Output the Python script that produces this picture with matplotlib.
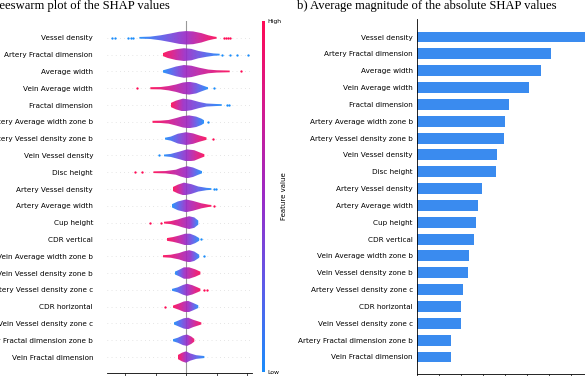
import numpy as np
import matplotlib
matplotlib.use('Agg')
import matplotlib.pyplot as plt
from matplotlib.colors import LinearSegmentedColormap
from matplotlib.patches import Polygon
from matplotlib.cm import ScalarMappable

features = [
    "Vessel density", "Artery Fractal dimension", "Average width", "Vein Average width",
    "Fractal dimension", "Artery Average width zone b", "Artery Vessel density zone b",
    "Vein Vessel density", "Disc height", "Artery Vessel density", "Artery Average width",
    "Cup height", "CDR vertical", "Vein Average width zone b", "Vein Vessel density zone b",
    "Artery Vessel density zone c", "CDR horizontal", "Vein Vessel density zone c",
    "Artery Fractal dimension zone b", "Vein Fractal dimension",
]

# mean |SHAP| (panel b)
mean_abs_shap = [0.160, 0.1215, 0.113, 0.102, 0.084, 0.080, 0.0795, 0.073, 0.072, 0.0595,
                 0.0555, 0.054, 0.052, 0.047, 0.046, 0.042, 0.040, 0.0397, 0.031, 0.031]

# beeswarm outline per feature (SHAP value positions and half thickness of the swarm)
swarm_x = [
    [-1.53, -1.17, -0.83, -0.5, -0.23, 0, 0.23, 0.5, 0.73, 0.9, 1.0],
    [-0.77, -0.6, -0.33, -0.07, 0.17, 0.4, 0.67, 0.9, 1.1],
    [-0.77, -0.57, -0.33, -0.07, 0.17, 0.43, 0.73, 1.0, 1.43],
    [-1.17, -0.83, -0.57, -0.33, -0.1, 0.1, 0.33, 0.5, 0.67, 0.73],
    [-0.5, -0.33, -0.1, 0.17, 0.43, 0.67, 1.0, 1.17],
    [-1.1, -0.83, -0.57, -0.33, -0.1, 0.1, 0.33, 0.5, 0.6],
    [-0.7, -0.5, -0.27, 0, 0.23, 0.43, 0.67],
    [-0.73, -0.5, -0.23, 0.03, 0.27, 0.43, 0.6],
    [-1.07, -0.67, -0.33, -0.17, 0.03, 0.23, 0.4, 0.53],
    [-0.43, -0.27, -0.07, 0.17, 0.4, 0.67, 0.83],
    [-0.47, -0.27, 0, 0.23, 0.5, 0.73, 0.83],
    [-0.73, -0.5, -0.27, -0.1, 0.1, 0.27, 0.4],
    [-0.63, -0.43, -0.23, -0.03, 0.13, 0.3, 0.43],
    [-0.77, -0.5, -0.23, -0.07, 0.1, 0.27, 0.43],
    [-0.37, -0.23, -0.07, 0.1, 0.3, 0.47],
    [-0.47, -0.27, -0.1, 0.03, 0.2, 0.37, 0.47],
    [-0.43, -0.23, -0.07, 0.07, 0.23, 0.4],
    [-0.4, -0.23, -0.07, 0.07, 0.23, 0.4, 0.5],
    [-0.43, -0.27, -0.1, 0.03, 0.17, 0.27],
    [-0.27, -0.13, 0, 0.13, 0.33, 0.6],
]
swarm_hw = [
    [0.05, 0.07, 0.15, 0.26, 0.36, 0.40, 0.38, 0.28, 0.15, 0.08, 0.05],
    [0.08, 0.2, 0.32, 0.38, 0.34, 0.22, 0.13, 0.07, 0.05],
    [0.06, 0.16, 0.29, 0.38, 0.34, 0.22, 0.11, 0.07, 0.05],
    [0.06, 0.07, 0.13, 0.22, 0.34, 0.38, 0.31, 0.19, 0.08, 0.05],
    [0.12, 0.26, 0.38, 0.31, 0.18, 0.09, 0.06, 0.05],
    [0.06, 0.07, 0.11, 0.22, 0.34, 0.38, 0.31, 0.19, 0.08],
    [0.05, 0.12, 0.29, 0.38, 0.31, 0.19, 0.07],
    [0.05, 0.09, 0.22, 0.36, 0.31, 0.19, 0.07],
    [0.05, 0.07, 0.15, 0.26, 0.36, 0.28, 0.15, 0.06],
    [0.12, 0.26, 0.38, 0.29, 0.15, 0.07, 0.05],
    [0.09, 0.26, 0.38, 0.29, 0.15, 0.07, 0.05],
    [0.05, 0.09, 0.19, 0.29, 0.38, 0.31, 0.12],
    [0.08, 0.14, 0.23, 0.34, 0.34, 0.22, 0.08],
    [0.06, 0.09, 0.19, 0.29, 0.36, 0.28, 0.09],
    [0.08, 0.19, 0.34, 0.34, 0.22, 0.08],
    [0.05, 0.15, 0.29, 0.36, 0.28, 0.15, 0.07],
    [0.06, 0.19, 0.31, 0.34, 0.22, 0.08],
    [0.06, 0.19, 0.31, 0.34, 0.22, 0.12, 0.06],
    [0.06, 0.15, 0.29, 0.34, 0.22, 0.08],
    [0.12, 0.26, 0.34, 0.22, 0.11, 0.06],
]
high_on_left = [False, True, False, True, True, True, False, False, True, True,
                False, True, True, True, False, False, True, False, False, True]
low_dots = [
    [-2.43, -2.33, -1.9, -1.8, -1.73], [1.17, 1.43, 1.67, 2.03], [], [0.9], [1.33, 1.4],
    [0.73], [], [-0.9], [], [0.9, 0.97], [], [], [0.5], [0.6], [], [], [], [], [], [],
]
high_dots = [
    [1.23, 1.3, 1.37, 1.43], [], [1.8], [-1.6], [], [], [0.87], [], [-1.67, -1.43], [],
    [0.9], [-1.17, -0.83], [], [], [], [0.6, 0.67], [-0.7], [], [], [],
]
shap_ticks = [-2, -1, 0, 1, 2]
bar_ticks = [0, 0.02, 0.04, 0.06, 0.08, 0.10, 0.12, 0.14, 0.16]

cmap = LinearSegmentedColormap.from_list(
    'red_blue', ['#1a8cfb', '#5e5ae8', '#9b2ac6', '#d31a8f', '#ff0a55'])
bar_color = '#3a8bef'
label_font = dict(family='DejaVu Sans', fontsize=5.2)

W, H = 585, 376
fig = plt.figure(figsize=(W / 100, H / 100), dpi=100)


def px_axes(x0, y0, x1, y1):
    return fig.add_axes([x0 / W, 1 - y1 / H, (x1 - x0) / W, (y1 - y0) / H])


n = len(features)
rows = [n - 1 - i for i in range(n)]

# ---- panel a: beeswarm ----
ax1 = px_axes(107, 21, 252, 373)
for i in range(n):
    y = rows[i]
    xs = np.array(swarm_x[i])
    hw = np.array(swarm_hw[i])
    verts = list(zip(xs, y + hw)) + list(zip(xs[::-1], y - hw[::-1]))
    poly = Polygon(verts, closed=True, facecolor='none', edgecolor='none')
    ax1.add_patch(poly)
    k = int(np.argmax(hw))
    grid = np.linspace(xs[0], xs[-1], 300)
    t = np.interp(grid, [xs[0], xs[k], xs[-1]], [0.0, 0.5, 1.0])
    if high_on_left[i]:
        t = 1 - t
    im = ax1.imshow(t[None, :], cmap=cmap, vmin=0, vmax=1,
                    extent=[xs[0], xs[-1], y - hw.max(), y + hw.max()],
                    aspect='auto', interpolation='bilinear', zorder=3, alpha=0.92)
    im.set_clip_path(poly)
    if low_dots[i]:
        ax1.scatter(low_dots[i], [y] * len(low_dots[i]), s=2.8, color=cmap(0.0), lw=0, zorder=3)
    if high_dots[i]:
        ax1.scatter(high_dots[i], [y] * len(high_dots[i]), s=2.8, color=cmap(1.0), lw=0, zorder=3)
    ax1.axhline(y, color='#cccccc', lw=0.5, dashes=(1, 5), zorder=-1)
ax1.axvline(0, color='#999999', lw=0.8, zorder=1)
ax1.set_xlim(-2.59, 2.16)
ax1.set_ylim(-0.95, 20.0)
ax1.set_xticks(shap_ticks)
ax1.set_yticks(rows)
ax1.set_yticklabels(features, **label_font)
ax1.tick_params(axis='y', length=0, pad=10)
ax1.tick_params(axis='x', length=3, width=0.5, labelbottom=False)
for s in ['top', 'right', 'left']:
    ax1.spines[s].set_visible(False)
ax1.spines['bottom'].set_linewidth(0.6)

# colour bar
cax = px_axes(262, 21, 265, 372)
sm = ScalarMappable(cmap=cmap)
sm.set_array([0, 1])
cb = fig.colorbar(sm, cax=cax, ticks=[])
cb.outline.set_visible(False)
fig.text(267 / W, 1 - 22 / H, 'High', fontsize=4.4, va='center', ha='left')
fig.text(267 / W, 1 - 373 / H, 'Low', fontsize=4.4, va='center', ha='left')
fig.text(284 / W, 1 - 196 / H, 'Feature value', fontsize=5.0, rotation=90,
         va='center', ha='center')

# ---- panel b: mean |SHAP| bars ----
ax2 = px_axes(417, 19, 610, 374)
ax2.barh(rows, mean_abs_shap, height=0.65, color=bar_color)
ax2.set_xlim(0, 193 / 1100)
ax2.set_ylim(-1.01, 20.07)
ax2.set_xticks(bar_ticks)
ax2.set_yticks(rows)
ax2.set_yticklabels(features, **label_font)
ax2.tick_params(axis='y', length=0, pad=3)
ax2.tick_params(axis='x', length=3, width=0.5, labelbottom=False)
for s in ['top', 'right']:
    ax2.spines[s].set_visible(False)
ax2.spines['left'].set_linewidth(0.6)
ax2.spines['bottom'].set_linewidth(0.6)

# titles
title_font = dict(family='Liberation Serif', fontsize=9.1)
fig.text(170 / W, 1 - 9.5 / H, 'a) Beeswarm plot of the SHAP values',
         ha='right', va='baseline', **title_font)
fig.text(297 / W, 1 - 9.5 / H, 'b) Average magnitude of the absolute SHAP values',
         ha='left', va='baseline', **title_font)

fig.savefig('out.png', dpi=100)
